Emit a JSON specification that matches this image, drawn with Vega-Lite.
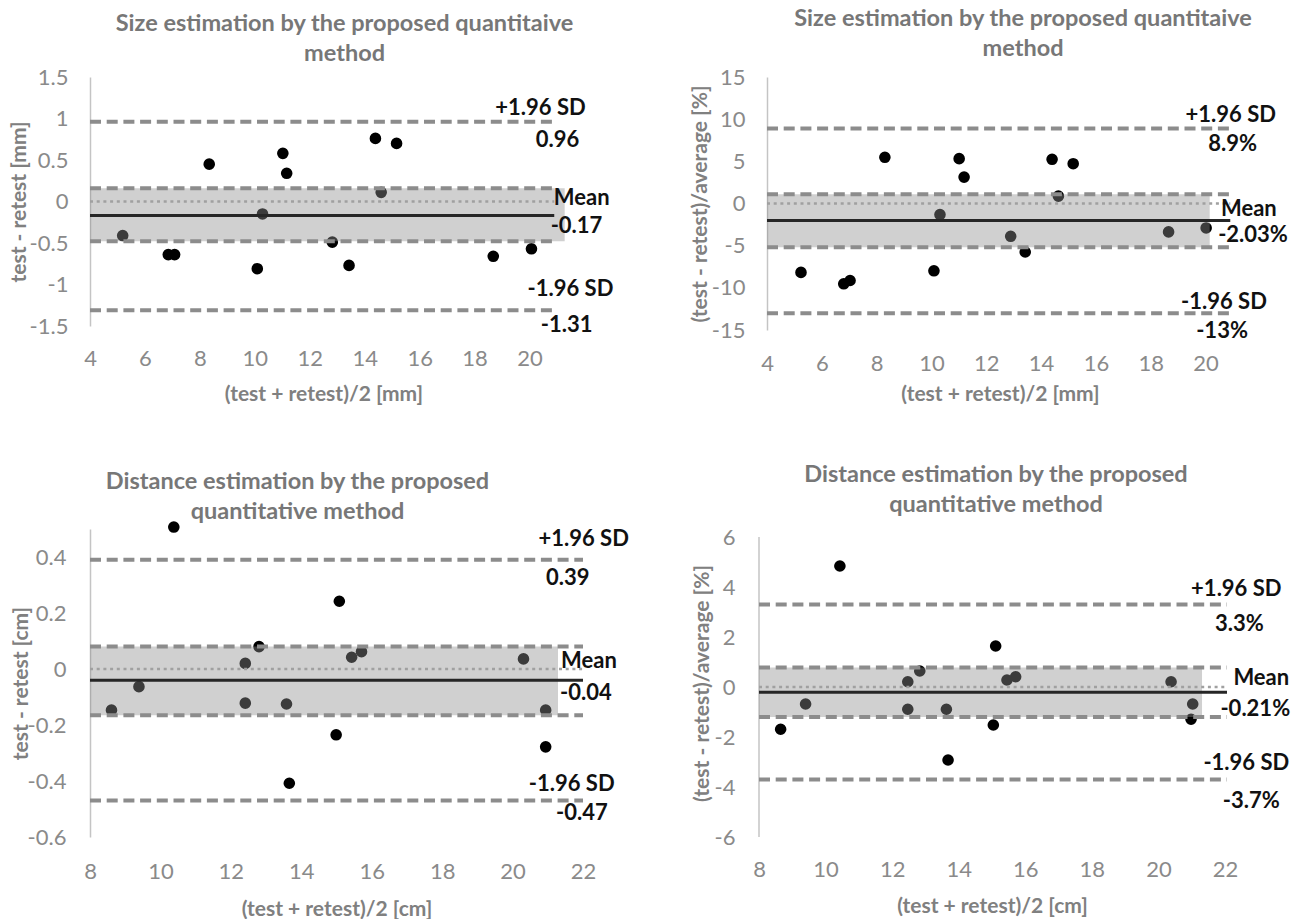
{
  "$schema": "https://vega.github.io/schema/vega-lite/v6.json",
  "background": "white",
  "padding": {"left": 7, "top": 6, "right": 5, "bottom": 0},
  "datasets": {
    "p1pts": [
      {"x": 5.19, "y": -0.41}, {"x": 6.85, "y": -0.64}, {"x": 7.08, "y": -0.64}, {"x": 8.34, "y": 0.45},
      {"x": 10.09, "y": -0.81}, {"x": 10.28, "y": -0.15}, {"x": 11.02, "y": 0.58}, {"x": 11.16, "y": 0.34},
      {"x": 12.82, "y": -0.49}, {"x": 13.43, "y": -0.77}, {"x": 14.39, "y": 0.76}, {"x": 14.6, "y": 0.11},
      {"x": 15.16, "y": 0.70}, {"x": 18.68, "y": -0.66}, {"x": 20.07, "y": -0.57}
    ],
    "p1ref": [
      {"kind": "upper", "y": 0.96, "label": "+1.96 SD", "value": "0.96"},
      {"kind": "mean", "y": -0.17, "label": "Mean", "value": "-0.17"},
      {"kind": "lower", "y": -1.31, "label": "-1.96 SD", "value": "-1.31"},
      {"kind": "ciHi", "y": 0.16},
      {"kind": "ciLo", "y": -0.48},
      {"kind": "zero", "y": 0}
    ],
    "p1band": [{"hi": 0.16, "lo": -0.48}],
    "p2pts": [
      {"x": 5.24, "y": -8.17}, {"x": 6.80, "y": -9.52}, {"x": 7.03, "y": -9.13}, {"x": 8.30, "y": 5.48},
      {"x": 10.09, "y": -7.98}, {"x": 10.31, "y": -1.31}, {"x": 11.01, "y": 5.32}, {"x": 11.19, "y": 3.13},
      {"x": 12.89, "y": -3.89}, {"x": 13.42, "y": -5.75}, {"x": 14.40, "y": 5.24}, {"x": 14.63, "y": 0.87},
      {"x": 15.17, "y": 4.72}, {"x": 18.65, "y": -3.37}, {"x": 20.02, "y": -2.90}
    ],
    "p2ref": [
      {"kind": "upper", "y": 8.9, "label": "+1.96 SD", "value": "8.9%"},
      {"kind": "mean", "y": -2.03, "label": "Mean", "value": "-2.03%"},
      {"kind": "lower", "y": -13, "label": "-1.96 SD", "value": "-13%"},
      {"kind": "ciHi", "y": 1.1},
      {"kind": "ciLo", "y": -5.2},
      {"kind": "zero", "y": 0}
    ],
    "p2band": [{"hi": 1.1, "lo": -5.2}],
    "p3pts": [
      {"x": 8.61, "y": -0.147}, {"x": 9.39, "y": -0.063}, {"x": 10.38, "y": 0.507}, {"x": 12.41, "y": 0.020},
      {"x": 12.41, "y": -0.122}, {"x": 12.80, "y": 0.080}, {"x": 13.58, "y": -0.125}, {"x": 13.66, "y": -0.408},
      {"x": 14.99, "y": -0.235}, {"x": 15.08, "y": 0.242}, {"x": 15.43, "y": 0.042}, {"x": 15.71, "y": 0.062},
      {"x": 20.31, "y": 0.036}, {"x": 20.94, "y": -0.147}, {"x": 20.94, "y": -0.278}
    ],
    "p3ref": [
      {"kind": "upper", "y": 0.39, "label": "+1.96 SD", "value": "0.39"},
      {"kind": "mean", "y": -0.04, "label": "Mean", "value": "-0.04"},
      {"kind": "lower", "y": -0.47, "label": "-1.96 SD", "value": "-0.47"},
      {"kind": "ciHi", "y": 0.08},
      {"kind": "ciLo", "y": -0.165},
      {"kind": "zero", "y": 0}
    ],
    "p3band": [{"hi": 0.08, "lo": -0.165}],
    "p4pts": [
      {"x": 8.65, "y": -1.69}, {"x": 9.40, "y": -0.68}, {"x": 10.43, "y": 4.84}, {"x": 12.47, "y": 0.21},
      {"x": 12.47, "y": -0.89}, {"x": 12.83, "y": 0.64}, {"x": 13.63, "y": -0.89}, {"x": 13.68, "y": -2.92},
      {"x": 15.04, "y": -1.52}, {"x": 15.11, "y": 1.64}, {"x": 15.45, "y": 0.28}, {"x": 15.71, "y": 0.41},
      {"x": 20.38, "y": 0.21}, {"x": 21.03, "y": -0.68}, {"x": 20.98, "y": -1.29}
    ],
    "p4ref": [
      {"kind": "upper", "y": 3.3, "label": "+1.96 SD", "value": "3.3%"},
      {"kind": "mean", "y": -0.21, "label": "Mean", "value": "-0.21%"},
      {"kind": "lower", "y": -3.7, "label": "-1.96 SD", "value": "-3.7%"},
      {"kind": "ciHi", "y": 0.78},
      {"kind": "ciLo", "y": -1.2},
      {"kind": "zero", "y": 0}
    ],
    "p4band": [{"hi": 0.78, "lo": -1.2}]
  },
  "config": {
    "view": {"stroke": null},
    "font": "Lato",
    "text": {"font": "Lato", "fontSize": 22, "fontWeight": "bold", "color": "#111111", "align": "center", "baseline": "middle"},
    "axis": {
      "grid": false, "ticks": false, "tickSize": 0,
      "labelFont": "Lato", "labelFontSize": 22, "labelColor": "#8a8a8a",
      "labelFlush": false, "labelOverlap": false, "labelBound": false,
      "titleFont": "Lato", "titleFontSize": 21, "titleFontWeight": "bold", "titleColor": "#808080",
      "domainColor": "#c4c4c4", "domainWidth": 1.5,
      "format": "~g",
      "labelExpr": "replace(datum.label, '\u2212', '-')"
    },
    "axisX": {"domain": false, "labelPadding": 32, "labelBaseline": "middle", "titleBaseline": "middle"},
    "axisY": {"labelPadding": 22, "titleBaseline": "middle", "titleAngle": -90},
    "title": {"font": "Lato", "fontSize": 23.5, "fontWeight": "bold", "color": "#777777", "lineHeight": 30, "frame": "group", "anchor": "middle"}
  },
  "bounds": "flush",
  "spacing": 452,
  "vconcat": [
    {
      "bounds": "flush",
      "spacing": 210,
      "hconcat": [
        {
          "width": 467, "height": 249,
          "title": {"text": ["Size estimation by the proposed quantitaive", "method"], "dx": 21, "offset": 1},
          "layer": [
            {"data": {"name": "p1pts"}, "mark": {"type": "circle", "size": 135, "opacity": 1, "color": "#000000"},
             "encoding": {
               "x": {"field": "x", "type": "quantitative", "title": "(test + retest)/2 [mm]", "scale": {"domain": [4, 21], "nice": false, "zero": false}, "axis": {"values": [4, 6, 8, 10, 12, 14, 16, 18, 20], "titleY": 68}},
               "y": {"field": "y", "type": "quantitative", "title": "test - retest [mm]", "scale": {"domain": [-1.5, 1.5], "nice": false, "zero": false}, "axis": {"values": [-1.5, -1, -0.5, 0, 0.5, 1, 1.5], "titleX": -71}}
             }},
            {"data": {"name": "p1band"}, "mark": {"type": "rect", "color": "#8f8f8f", "opacity": 0.42},
             "encoding": {"x": {"datum": 4}, "x2": {"datum": 21.28}, "y": {"field": "hi", "type": "quantitative"}, "y2": {"field": "lo"}}},
            {"data": {"name": "p1ref"}, "transform": [{"filter": "datum.kind === 'zero'"}],
             "mark": {"type": "rule", "color": "#a0a0a0", "strokeWidth": 2.5, "strokeDash": [3, 3.7]},
             "encoding": {"x": {"datum": 4}, "x2": {"datum": 20.9}, "y": {"field": "y", "type": "quantitative"}}},
            {"data": {"name": "p1ref"}, "transform": [{"filter": "datum.kind !== 'zero' && datum.kind !== 'mean'"}],
             "mark": {"type": "rule", "color": "#8c8c8c", "strokeWidth": 4, "strokeDash": [11, 5.7]},
             "encoding": {"x": {"datum": 4}, "x2": {"datum": 20.9}, "y": {"field": "y", "type": "quantitative"}}},
            {"data": {"name": "p1ref"}, "transform": [{"filter": "datum.kind === 'mean'"}],
             "mark": {"type": "rule", "color": "#262626", "strokeWidth": 3},
             "encoding": {"x": {"datum": 4}, "x2": {"datum": 20.9}, "y": {"field": "y", "type": "quantitative"}}},
            {"data": {"name": "p1ref"}, "transform": [{"filter": "datum.kind === 'upper'"}], "mark": {"type": "text", "dy": -13.5},
             "encoding": {"x": {"datum": 20.4}, "y": {"field": "y", "type": "quantitative"}, "text": {"field": "label"}}},
            {"data": {"name": "p1ref"}, "transform": [{"filter": "datum.kind === 'upper'"}], "mark": {"type": "text", "dy": 18},
             "encoding": {"x": {"datum": 21.02}, "y": {"field": "y", "type": "quantitative"}, "text": {"field": "value"}}},
            {"data": {"name": "p1ref"}, "transform": [{"filter": "datum.kind === 'mean'"}], "mark": {"type": "text", "dy": -18},
             "encoding": {"x": {"datum": 21.9}, "y": {"field": "y", "type": "quantitative"}, "text": {"field": "label"}}},
            {"data": {"name": "p1ref"}, "transform": [{"filter": "datum.kind === 'mean'"}], "mark": {"type": "text", "dy": 10.5},
             "encoding": {"x": {"datum": 21.71}, "y": {"field": "y", "type": "quantitative"}, "text": {"field": "value"}}},
            {"data": {"name": "p1ref"}, "transform": [{"filter": "datum.kind === 'lower'"}], "mark": {"type": "text", "dy": -21},
             "encoding": {"x": {"datum": 21.49}, "y": {"field": "y", "type": "quantitative"}, "text": {"field": "label"}}},
            {"data": {"name": "p1ref"}, "transform": [{"filter": "datum.kind === 'lower'"}], "mark": {"type": "text", "dy": 15},
             "encoding": {"x": {"datum": 21.35}, "y": {"field": "y", "type": "quantitative"}, "text": {"field": "value"}}}
          ]
        },
        {
          "width": 466, "height": 253,
          "title": {"text": ["Size estimation by the proposed quantitaive", "method"], "dx": 23, "offset": 6},
          "layer": [
            {"data": {"name": "p2pts"}, "mark": {"type": "circle", "size": 135, "opacity": 1, "color": "#000000"},
             "encoding": {
               "x": {"field": "x", "type": "quantitative", "title": "(test + retest)/2 [mm]", "scale": {"domain": [4, 21], "nice": false, "zero": false}, "axis": {"values": [4, 6, 8, 10, 12, 14, 16, 18, 20], "titleY": 64, "labelPadding": 33}},
               "y": {"field": "y", "type": "quantitative", "title": "(test - retest)/average [%]", "scale": {"domain": [-15, 15], "nice": false, "zero": false}, "axis": {"values": [-15, -10, -5, 0, 5, 10, 15], "titleX": -67}}
             }},
            {"data": {"name": "p2band"}, "mark": {"type": "rect", "color": "#8f8f8f", "opacity": 0.42},
             "encoding": {"x": {"datum": 4}, "x2": {"datum": 20.15}, "y": {"field": "hi", "type": "quantitative"}, "y2": {"field": "lo"}}},
            {"data": {"name": "p2ref"}, "transform": [{"filter": "datum.kind === 'zero'"}],
             "mark": {"type": "rule", "color": "#a0a0a0", "strokeWidth": 2.5, "strokeDash": [3, 3.7]},
             "encoding": {"x": {"datum": 4}, "x2": {"datum": 20.9}, "y": {"field": "y", "type": "quantitative"}}},
            {"data": {"name": "p2ref"}, "transform": [{"filter": "datum.kind !== 'zero' && datum.kind !== 'mean'"}],
             "mark": {"type": "rule", "color": "#8c8c8c", "strokeWidth": 4, "strokeDash": [11, 5.7]},
             "encoding": {"x": {"datum": 4}, "x2": {"datum": 20.9}, "y": {"field": "y", "type": "quantitative"}}},
            {"data": {"name": "p2ref"}, "transform": [{"filter": "datum.kind === 'mean'"}],
             "mark": {"type": "rule", "color": "#262626", "strokeWidth": 3},
             "encoding": {"x": {"datum": 4}, "x2": {"datum": 20.9}, "y": {"field": "y", "type": "quantitative"}}},
            {"data": {"name": "p2ref"}, "transform": [{"filter": "datum.kind === 'upper'"}], "mark": {"type": "text", "dy": -13.4},
             "encoding": {"x": {"datum": 20.92}, "y": {"field": "y", "type": "quantitative"}, "text": {"field": "label"}}},
            {"data": {"name": "p2ref"}, "transform": [{"filter": "datum.kind === 'upper'"}], "mark": {"type": "text", "dy": 15.6},
             "encoding": {"x": {"datum": 20.99}, "y": {"field": "y", "type": "quantitative"}, "text": {"field": "value"}}},
            {"data": {"name": "p2ref"}, "transform": [{"filter": "datum.kind === 'mean'"}], "mark": {"type": "text", "dy": -11.3},
             "encoding": {"x": {"datum": 21.58}, "y": {"field": "y", "type": "quantitative"}, "text": {"field": "label"}}},
            {"data": {"name": "p2ref"}, "transform": [{"filter": "datum.kind === 'mean'"}], "mark": {"type": "text", "dy": 14.4},
             "encoding": {"x": {"datum": 21.73}, "y": {"field": "y", "type": "quantitative"}, "text": {"field": "value"}}},
            {"data": {"name": "p2ref"}, "transform": [{"filter": "datum.kind === 'lower'"}], "mark": {"type": "text", "dy": -11.3},
             "encoding": {"x": {"datum": 20.67}, "y": {"field": "y", "type": "quantitative"}, "text": {"field": "label"}}},
            {"data": {"name": "p2ref"}, "transform": [{"filter": "datum.kind === 'lower'"}], "mark": {"type": "text", "dy": 18},
             "encoding": {"x": {"datum": 20.6}, "y": {"field": "y", "type": "quantitative"}, "text": {"field": "value"}}}
          ]
        }
      ]
    },
    {
      "bounds": "flush",
      "spacing": 176,
      "hconcat": [
        {
          "width": 493, "height": 308,
          "title": {"text": ["Distance estimation by the proposed", "quantitative method"], "dx": -39, "offset": -2},
          "layer": [
            {"data": {"name": "p3pts"}, "mark": {"type": "circle", "size": 135, "opacity": 1, "color": "#000000"},
             "encoding": {
               "x": {"field": "x", "type": "quantitative", "title": "(test + retest)/2 [cm]", "scale": {"domain": [8, 22], "nice": false, "zero": false}, "axis": {"values": [8, 10, 12, 14, 16, 18, 20, 22], "titleY": 72, "labelPadding": 34}},
               "y": {"field": "y", "type": "quantitative", "title": "test - retest [cm]", "scale": {"domain": [-0.6, 0.5], "nice": false, "zero": false}, "axis": {"values": [-0.6, -0.4, -0.2, 0, 0.2, 0.4], "titleX": -69, "labelPadding": 24}}
             }},
            {"data": {"name": "p3band"}, "mark": {"type": "rect", "color": "#8f8f8f", "opacity": 0.42},
             "encoding": {"x": {"datum": 8}, "x2": {"datum": 21.29}, "y": {"field": "hi", "type": "quantitative"}, "y2": {"field": "lo"}}},
            {"data": {"name": "p3ref"}, "transform": [{"filter": "datum.kind === 'zero'"}],
             "mark": {"type": "rule", "color": "#a0a0a0", "strokeWidth": 2.5, "strokeDash": [3, 3.7]},
             "encoding": {"x": {"datum": 8}, "x2": {"datum": 22}, "y": {"field": "y", "type": "quantitative"}}},
            {"data": {"name": "p3ref"}, "transform": [{"filter": "datum.kind !== 'zero' && datum.kind !== 'mean'"}],
             "mark": {"type": "rule", "color": "#8c8c8c", "strokeWidth": 4, "strokeDash": [11, 5.7]},
             "encoding": {"x": {"datum": 8}, "x2": {"datum": 22}, "y": {"field": "y", "type": "quantitative"}}},
            {"data": {"name": "p3ref"}, "transform": [{"filter": "datum.kind === 'mean'"}],
             "mark": {"type": "rule", "color": "#262626", "strokeWidth": 3},
             "encoding": {"x": {"datum": 8}, "x2": {"datum": 22}, "y": {"field": "y", "type": "quantitative"}}},
            {"data": {"name": "p3ref"}, "transform": [{"filter": "datum.kind === 'upper'"}], "mark": {"type": "text", "dy": -20.5},
             "encoding": {"x": {"datum": 22.02}, "y": {"field": "y", "type": "quantitative"}, "text": {"field": "label"}}},
            {"data": {"name": "p3ref"}, "transform": [{"filter": "datum.kind === 'upper'"}], "mark": {"type": "text", "dy": 18.5},
             "encoding": {"x": {"datum": 21.57}, "y": {"field": "y", "type": "quantitative"}, "text": {"field": "value"}}},
            {"data": {"name": "p3ref"}, "transform": [{"filter": "datum.kind === 'mean'"}], "mark": {"type": "text", "dy": -19.5},
             "encoding": {"x": {"datum": 22.17}, "y": {"field": "y", "type": "quantitative"}, "text": {"field": "label"}}},
            {"data": {"name": "p3ref"}, "transform": [{"filter": "datum.kind === 'mean'"}], "mark": {"type": "text", "dy": 13},
             "encoding": {"x": {"datum": 22.08}, "y": {"field": "y", "type": "quantitative"}, "text": {"field": "value"}}},
            {"data": {"name": "p3ref"}, "transform": [{"filter": "datum.kind === 'lower'"}], "mark": {"type": "text", "dy": -16.3},
             "encoding": {"x": {"datum": 21.68}, "y": {"field": "y", "type": "quantitative"}, "text": {"field": "label"}}},
            {"data": {"name": "p3ref"}, "transform": [{"filter": "datum.kind === 'lower'"}], "mark": {"type": "text", "dy": 12.7},
             "encoding": {"x": {"datum": 21.97}, "y": {"field": "y", "type": "quantitative"}, "text": {"field": "value"}}}
          ]
        },
        {
          "width": 466, "height": 308,
          "title": {"text": ["Distance estimation by the proposed", "quantitative method"], "dx": 4, "offset": 10},
          "layer": [
            {"data": {"name": "p4pts"}, "mark": {"type": "circle", "size": 135, "opacity": 1, "color": "#000000"},
             "encoding": {
               "x": {"field": "x", "type": "quantitative", "title": "(test + retest)/2 [cm]", "scale": {"domain": [8, 22], "nice": false, "zero": false}, "axis": {"values": [8, 10, 12, 14, 16, 18, 20, 22], "titleY": 69}},
               "y": {"field": "y", "type": "quantitative", "title": "(test - retest)/average [%]", "scale": {"domain": [-6, 6.32], "nice": false, "zero": false}, "axis": {"values": [-6, -4, -2, 0, 2, 4, 6], "titleX": -57, "domain": false, "labelPadding": 24}}
             }},
            {"data": {"name": "p4ref"}, "transform": [{"filter": "datum.kind === 'zero'"}],
             "mark": {"type": "rule", "color": "#c4c4c4", "strokeWidth": 1.5},
             "encoding": {"x": {"datum": 8}, "y": {"datum": -6}, "y2": {"datum": 6}}},
            {"data": {"name": "p4band"}, "mark": {"type": "rect", "color": "#8f8f8f", "opacity": 0.42},
             "encoding": {"x": {"datum": 8}, "x2": {"datum": 21.31}, "y": {"field": "hi", "type": "quantitative"}, "y2": {"field": "lo"}}},
            {"data": {"name": "p4ref"}, "transform": [{"filter": "datum.kind === 'zero'"}],
             "mark": {"type": "rule", "color": "#a0a0a0", "strokeWidth": 2.5, "strokeDash": [3, 3.7]},
             "encoding": {"x": {"datum": 8}, "x2": {"datum": 22.06}, "y": {"field": "y", "type": "quantitative"}}},
            {"data": {"name": "p4ref"}, "transform": [{"filter": "datum.kind !== 'zero' && datum.kind !== 'mean'"}],
             "mark": {"type": "rule", "color": "#8c8c8c", "strokeWidth": 4, "strokeDash": [11, 5.7]},
             "encoding": {"x": {"datum": 8}, "x2": {"datum": 22.06}, "y": {"field": "y", "type": "quantitative"}}},
            {"data": {"name": "p4ref"}, "transform": [{"filter": "datum.kind === 'mean'"}],
             "mark": {"type": "rule", "color": "#262626", "strokeWidth": 3},
             "encoding": {"x": {"datum": 8}, "x2": {"datum": 22.06}, "y": {"field": "y", "type": "quantitative"}}},
            {"data": {"name": "p4ref"}, "transform": [{"filter": "datum.kind === 'upper'"}], "mark": {"type": "text", "dy": -15.8},
             "encoding": {"x": {"datum": 22.34}, "y": {"field": "y", "type": "quantitative"}, "text": {"field": "label"}}},
            {"data": {"name": "p4ref"}, "transform": [{"filter": "datum.kind === 'upper'"}], "mark": {"type": "text", "dy": 19.8},
             "encoding": {"x": {"datum": 22.43}, "y": {"field": "y", "type": "quantitative"}, "text": {"field": "value"}}},
            {"data": {"name": "p4ref"}, "transform": [{"filter": "datum.kind === 'mean'"}], "mark": {"type": "text", "dy": -14.6},
             "encoding": {"x": {"datum": 23.09}, "y": {"field": "y", "type": "quantitative"}, "text": {"field": "label"}}},
            {"data": {"name": "p4ref"}, "transform": [{"filter": "datum.kind === 'mean'"}], "mark": {"type": "text", "dy": 17},
             "encoding": {"x": {"datum": 22.91}, "y": {"field": "y", "type": "quantitative"}, "text": {"field": "value"}}},
            {"data": {"name": "p4ref"}, "transform": [{"filter": "datum.kind === 'lower'"}], "mark": {"type": "text", "dy": -16.8},
             "encoding": {"x": {"datum": 22.64}, "y": {"field": "y", "type": "quantitative"}, "text": {"field": "label"}}},
            {"data": {"name": "p4ref"}, "transform": [{"filter": "datum.kind === 'lower'"}], "mark": {"type": "text", "dy": 21.5},
             "encoding": {"x": {"datum": 22.79}, "y": {"field": "y", "type": "quantitative"}, "text": {"field": "value"}}}
          ]
        }
      ]
    }
  ]
}
